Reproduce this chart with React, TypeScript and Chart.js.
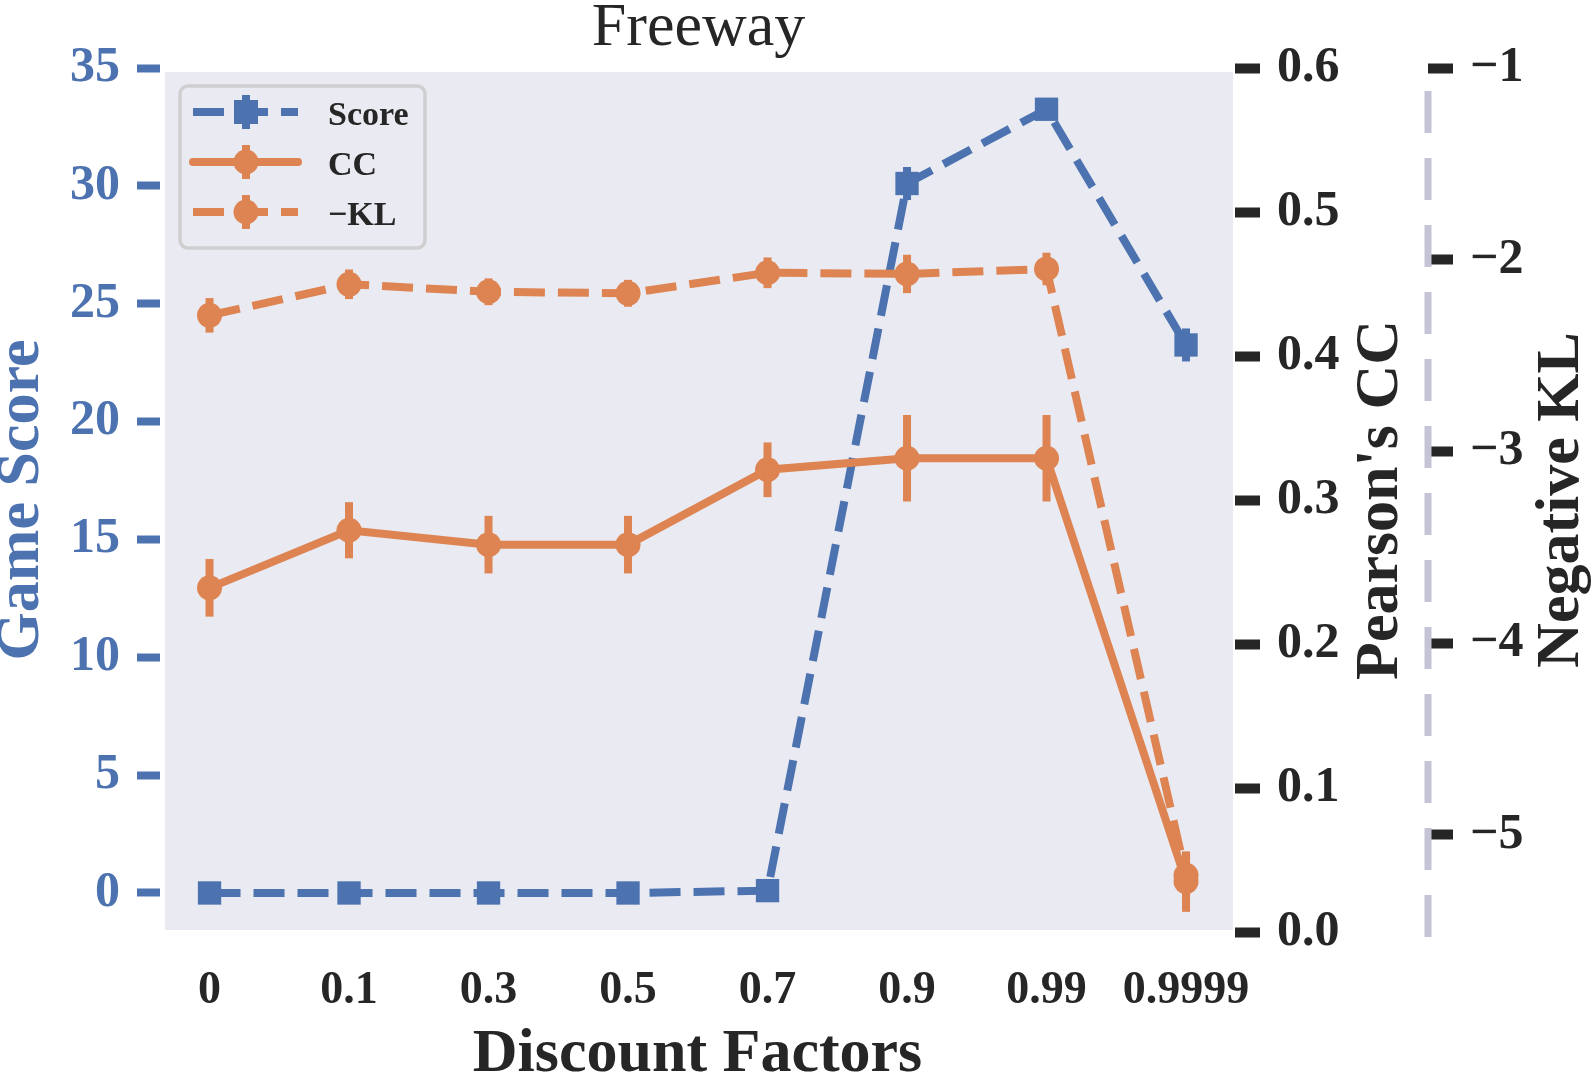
import { useEffect, useRef } from 'react';
import { Chart, registerables } from 'chart.js';

Chart.register(...registerables);

// discount factors on the x axis
const categories = ['0', '0.1', '0.3', '0.5', '0.7', '0.9', '0.99', '0.9999'];

// game score (left axis)
const scoreMean = [0, 0, 0, 0, 0.1, 30.1, 33.25, 23.25];
const scoreErr = [0, 0, 0, 0, 0, 0.7, 0.3, 0.7];

// Pearson's CC (first right axis)
const ccMean = [0.239, 0.279, 0.269, 0.269, 0.321, 0.329, 0.329, 0.035];
const ccErr = [0.02, 0.0195, 0.02, 0.02, 0.019, 0.03, 0.03, 0.021];

// negative KL (second right axis)
const klMean = [-2.29, -2.128, -2.167, -2.175, -2.068, -2.074, -2.048, -5.21];
const klErr = [0.09, 0.077, 0.07, 0.07, 0.08, 0.1, 0.085, 0.12];

const BLUE = '#4C72B0';
const ORANGE = '#DD8452';
const INK = '#262626';
const BG = '#EAEAF2';
const FONT = "'Liberation Serif', 'Times New Roman', serif";
const DASH = [31, 13];

const toPoints = (vals: number[]) => vals.map((y, i) => ({ x: i, y }));

const backgroundPlugin = {
  id: 'plotBackground',
  beforeDraw(chart: any) {
    const { ctx, chartArea: a } = chart;
    ctx.save();
    ctx.fillStyle = BG;
    ctx.fillRect(a.left + 5, a.top + 4, a.right - a.left - 7, a.bottom - a.top - 6);
    ctx.restore();
  },
};

const errorBarPlugin = {
  id: 'errorBars',
  afterDatasetDraw(chart: any, args: any) {
    const ds = chart.data.datasets[args.index];
    const errs: number[] | undefined = ds.errors;
    if (!errs) return;
    const { ctx } = chart;
    const xs = chart.scales.x;
    const ys = chart.scales[ds.yAxisID];
    ctx.save();
    ctx.strokeStyle = ds.borderColor;
    ctx.lineWidth = 8;
    ctx.lineCap = 'butt';
    ds.data.forEach((p: { x: number; y: number }, i: number) => {
      const e = errs[i];
      if (!e) return;
      const x = xs.getPixelForValue(p.x);
      ctx.beginPath();
      ctx.moveTo(x, ys.getPixelForValue(p.y - e));
      ctx.lineTo(x, ys.getPixelForValue(p.y + e));
      ctx.stroke();
    });
    ctx.restore();
  },
};

const decorPlugin = {
  id: 'decor',
  afterDraw(chart: any) {
    const { ctx, chartArea: a } = chart;
    const midY = (a.top + a.bottom) / 2;

    // dashed spine of the KL axis
    const kl = chart.scales.y2;
    ctx.save();
    ctx.strokeStyle = '#C4C4D6';
    ctx.lineWidth = 7;
    ctx.setLineDash([42, 25]);
    ctx.beginPath();
    ctx.moveTo(kl.left, kl.bottom + 5);
    ctx.lineTo(kl.left, kl.top + 4);
    ctx.stroke();
    ctx.restore();

    // title
    ctx.save();
    ctx.fillStyle = INK;
    ctx.font = `62px ${FONT}`;
    ctx.textAlign = 'center';
    ctx.textBaseline = 'alphabetic';
    ctx.fillText('Freeway', (a.left + a.right) / 2 + 1, 45);
    ctx.restore();

    // right axis titles, reading bottom to top
    const vertical = (text: string, x: number) => {
      ctx.save();
      ctx.fillStyle = INK;
      ctx.font = `bold 62px ${FONT}`;
      ctx.textAlign = 'center';
      ctx.textBaseline = 'alphabetic';
      ctx.translate(x, midY);
      ctx.rotate(-Math.PI / 2);
      ctx.fillText(text, 0, 0);
      ctx.restore();
    };
    vertical("Pearson's CC", chart.scales.y1.left + 162);
    vertical('Negative KL', kl.left + 150);

    // legend
    const lx = a.left + 20;
    const ly = a.top + 18;
    ctx.save();
    ctx.fillStyle = BG;
    ctx.strokeStyle = '#CFCFCF';
    ctx.lineWidth = 3.5;
    ctx.beginPath();
    ctx.roundRect(lx, ly, 245, 162, 8);
    ctx.fill();
    ctx.stroke();
    const rows = [
      { label: 'Score', color: BLUE, dash: DASH, marker: 'rect', dy: 26 },
      { label: 'CC', color: ORANGE, dash: [] as number[], marker: 'circle', dy: 76 },
      { label: '\u2212KL', color: ORANGE, dash: DASH, marker: 'circle', dy: 126 },
    ];
    rows.forEach((r) => {
      const y = ly + r.dy;
      const mx = lx + 66;
      ctx.strokeStyle = r.color;
      ctx.fillStyle = r.color;
      ctx.lineWidth = 8;
      ctx.setLineDash(r.dash);
      ctx.lineCap = r.dash.length ? 'butt' : 'round';
      ctx.beginPath();
      ctx.moveTo(lx + 13, y);
      ctx.lineTo(lx + 118, y);
      ctx.stroke();
      ctx.setLineDash([]);
      ctx.lineCap = 'butt';
      ctx.beginPath();
      ctx.moveTo(mx, y - 17);
      ctx.lineTo(mx, y + 17);
      ctx.stroke();
      if (r.marker === 'rect') {
        ctx.fillRect(mx - 12, y - 12, 24, 24);
      } else {
        ctx.beginPath();
        ctx.arc(mx, y, 12.5, 0, Math.PI * 2);
        ctx.fill();
      }
      ctx.fillStyle = INK;
      ctx.font = `bold 34px ${FONT}`;
      ctx.textAlign = 'left';
      ctx.textBaseline = 'alphabetic';
      ctx.fillText(r.label, lx + 148, y + 13);
    });
    ctx.restore();
  },
};

export default function App() {
  const canvasRef = useRef<HTMLCanvasElement | null>(null);

  useEffect(() => {
    const canvas = canvasRef.current;
    if (!canvas) return;

    const chart = new Chart(canvas, {
      type: 'line',
      data: {
        datasets: [
          {
            label: 'Score',
            data: toPoints(scoreMean),
            errors: scoreErr,
            yAxisID: 'y',
            borderColor: BLUE,
            backgroundColor: BLUE,
            borderWidth: 8,
            borderDash: DASH,
            pointStyle: 'rect',
            pointRadius: 16.5,
            pointBorderWidth: 0,
            tension: 0,
            order: 3,
          },
          {
            label: 'CC',
            data: toPoints(ccMean),
            errors: ccErr,
            yAxisID: 'y1',
            borderColor: ORANGE,
            backgroundColor: ORANGE,
            borderWidth: 8,
            borderCapStyle: 'round',
            pointStyle: 'circle',
            pointRadius: 12.5,
            pointBorderWidth: 0,
            tension: 0,
            order: 2,
          },
          {
            label: '\u2212KL',
            data: toPoints(klMean),
            errors: klErr,
            yAxisID: 'y2',
            borderColor: ORANGE,
            backgroundColor: ORANGE,
            borderWidth: 8,
            borderDash: DASH,
            pointStyle: 'circle',
            pointRadius: 12.5,
            pointBorderWidth: 0,
            tension: 0,
            order: 1,
          },
        ] as any,
      },
      options: {
        responsive: true,
        maintainAspectRatio: false,
        animation: false,
        events: [],
        layout: { padding: { top: 68, left: 0, right: 0, bottom: 0 } },
        plugins: {
          legend: { display: false },
          tooltip: { enabled: false },
        },
        scales: {
          x: {
            type: 'linear',
            min: -0.355,
            max: 7.351,
            afterBuildTicks: (s: any) => {
              s.ticks = categories.map((_, i) => ({ value: i }));
            },
            afterFit: (s: any) => {
              s.height = 154;
            },
            grid: { display: false, drawTicks: false },
            border: { display: false },
            ticks: {
              autoSkip: false,
              maxRotation: 0,
              padding: 32,
              color: INK,
              font: { family: FONT, size: 46, weight: 'bold' },
              callback: (v: any) => categories[Number(v)] ?? '',
            },
            title: {
              display: true,
              text: 'Discount Factors',
              color: INK,
              font: { family: FONT, size: 62, weight: 'bold', lineHeight: 0.6 },
              padding: { top: 0, bottom: 12 },
            },
          },
          y: {
            position: 'left',
            min: -1.655,
            max: 35,
            afterFit: (s: any) => {
              s.width = 160;
            },
            grid: {
              display: true,
              drawOnChartArea: false,
              drawTicks: true,
              tickLength: 23,
              tickWidth: 8,
              tickColor: BLUE,
            },
            border: { display: false },
            ticks: {
              stepSize: 5,
              includeBounds: false,
              padding: 17,
              color: BLUE,
              font: { family: FONT, size: 50, weight: 'bold' },
              callback: (v: any) => String(v),
            },
            title: {
              display: true,
              text: 'Game Score',
              color: BLUE,
              font: { family: FONT, size: 62, weight: 'bold', lineHeight: 0.7 },
              padding: 0,
            },
          },
          y1: {
            position: 'right',
            weight: 0,
            min: 0,
            max: 0.6,
            afterFit: (s: any) => {
              s.width = 193;
            },
            grid: {
              display: true,
              drawOnChartArea: false,
              drawTicks: true,
              tickLength: 25,
              tickWidth: 10,
              tickColor: INK,
            },
            border: { display: false },
            ticks: {
              stepSize: 0.1,
              includeBounds: false,
              padding: 17,
              color: INK,
              font: { family: FONT, size: 50, weight: 'bold' },
              callback: (v: any) => Number(v).toFixed(1),
            },
          },
          y2: {
            position: 'right',
            weight: 1,
            min: -5.506,
            max: -1,
            afterFit: (s: any) => {
              s.width = 166;
            },
            grid: {
              display: true,
              drawOnChartArea: false,
              drawTicks: true,
              tickLength: 25,
              tickWidth: 10,
              tickColor: INK,
            },
            border: { display: false },
            ticks: {
              stepSize: 1,
              includeBounds: false,
              padding: 17,
              color: INK,
              font: { family: FONT, size: 50, weight: 'bold' },
              callback: (v: any) => '\u2212' + Math.abs(Number(v)),
            },
          },
        },
      } as any,
      plugins: [backgroundPlugin, errorBarPlugin, decorPlugin],
    });

    return () => chart.destroy();
  }, []);

  return (
    <div style={{ position: 'fixed', left: 0, top: 0, width: 1594, height: 1086, background: '#fff' }}>
      <canvas ref={canvasRef} />
    </div>
  );
}
